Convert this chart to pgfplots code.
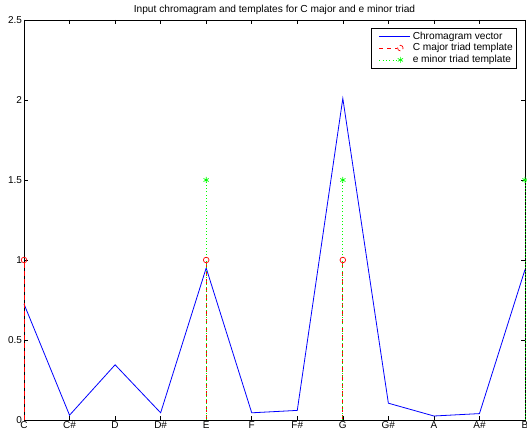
\documentclass[border=0pt]{standalone}
\usepackage{fontspec}
\setmainfont{Liberation Sans}
\usepackage{pgfplots}
\pgfplotsset{compat=1.18}
\definecolor{mblue}{rgb}{0,0,1}
\definecolor{mred}{rgb}{1,0,0}
\definecolor{mgreen}{rgb}{0,1,0}
\begin{document}
\begin{tikzpicture}
\begin{axis}[
  at={(0,0)}, anchor=south west,
  scale only axis, width=501bp, height=400bp,
  xmin=1, xmax=12, ymin=0, ymax=2.5,
  xtick={1,...,12},
  xticklabels={C,C\#,D,D\#,E,F,F\#,G,G\#,A,A\#,B},
  ytick={0,0.5,1,1.5,2,2.5},
  yticklabels={0,0.5,1,1.5,2,2.5},
  tick align=inside, major tick length=4bp,
  tick pos=both,
  tick label style={font=\fontsize{10}{12}\selectfont},
  xticklabel style={yshift=1.5bp},
  yticklabel style={xshift=1.5bp},
  axis line style={line width=0.6bp},
  tick style={line width=0.6bp, black},
  title={Input chromagram and templates for C major and e minor triad},
  title style={font=\fontsize{10.2}{12}\selectfont, at={(0.5,1)}, anchor=south, yshift=-4bp},
  legend style={at={(1,1)}, anchor=north east, xshift=-8bp, yshift=-8bp,
    font=\fontsize{10.2}{12}\selectfont, draw=black, line width=0.6bp,
    inner xsep=2bp, inner ysep=1.5bp, row sep=-1bp},
  legend cell align=left,
  clip=false,
]
\addplot[mblue, line width=0.8bp, mark=none,
  legend image code/.code={\path (0bp,0bp) (37bp,0bp); \draw[draw=mblue, line width=0.8bp] (6bp,0bp) -- (37bp,0bp);}] coordinates {
(1,0.725) (2,0.03) (3,0.345) (4,0.045) (5,0.95) (6,0.045)
(7,0.06) (8,2.01) (9,0.105) (10,0.025) (11,0.04) (12,0.94)};
\addlegendentry{Chromagram vector}
\addplot[mred, line width=0.7bp, ycomb, dash pattern=on 5bp off 3bp, mark=o, mark size=2.8bp, mark options={solid},
  legend image code/.code={\path (0bp,0bp) (37bp,0bp); \draw[draw=mred, line width=0.7bp, dash pattern=on 4bp off 4bp] (6bp,0bp) -- (24bp,0bp);
    \draw[draw=mred, line width=0.7bp] (27bp,0bp) circle (2.8bp);}] coordinates {
(1,1) (5,1) (8,1)};
\addlegendentry{C major triad template}
\addplot[mgreen, line width=0.7bp, ycomb, dash pattern=on 0.8bp off 2.5bp, mark=asterisk, mark size=3bp, mark options={solid},
  legend image code/.code={\path (0bp,0bp) (37bp,0bp); \draw[draw=mgreen, line width=0.7bp, dash pattern=on 0.8bp off 2.5bp] (6bp,0bp) -- (24bp,0bp);
    \draw[draw=mgreen, line width=0.7bp] plot[mark=asterisk, mark size=3bp] coordinates {(27bp,0bp)};}] coordinates {
(5,1.5) (8,1.5) (12,1.5)};
\addlegendentry{e minor triad template}
\end{axis}
\pgfresetboundingbox
\path[use as bounding box] (-24bp,-16bp) rectangle (503bp,420bp);
\end{tikzpicture}
\end{document}
